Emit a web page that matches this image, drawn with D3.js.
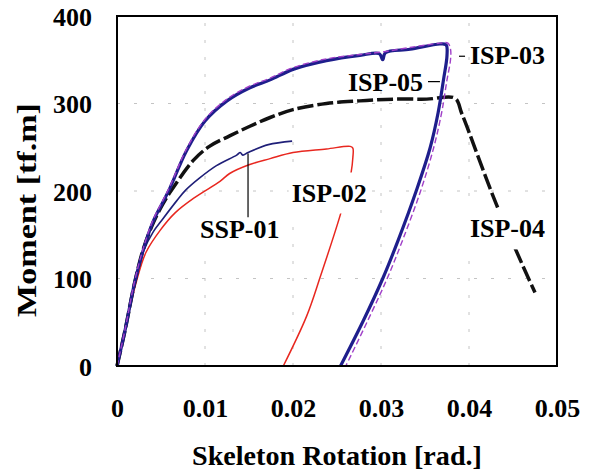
<!DOCTYPE html>
<html>
<head>
<meta charset="utf-8">
<script src="https://cdn.jsdelivr.net/npm/d3@7"></script>
<style>
  body { margin: 0; background: #fff; }
  svg { display: block; font-family: "Liberation Serif", "Times New Roman", serif; font-weight: bold; }
</style>
</head>
<body>
<svg width="590" height="472"></svg>
<script>
// rotation [rad], moment [tf.m]
var ssp01 = [[0,0],[0.0009,40],[0.002,95],[0.003,131],[0.0041,153],[0.0052,168],[0.0068,189],[0.0078,201],
  [0.0094,215],[0.0113,229],[0.0136,241],[0.0140,244],[0.0143,241],[0.0149,244],[0.0172,253],[0.0199,257]]

var isp02 = [[0,0],[0.001,46],[0.0023,100],[0.0033,130],[0.0049,155],[0.0066,175],[0.0089,193],
  [0.0117,211],[0.0128,220],[0.0150,230],[0.0174,237],[0.0200,244],[0.0238,248],[0.0265,251],
  [0.0268,249],[0.0268,238],[0.0266,221],[0.0255,177],[0.0231,102],[0.02155,57],[0.0189,0]]

var isp03 = [[0,0],[0.0009,41],[0.002,97],[0.003,135],[0.0041,167],[0.0053,191],[0.006,205],[0.0079,248],
  [0.010,282],[0.0125,305],[0.0151,320],[0.0174,329],[0.020,341],[0.0238,351],[0.0276,356],[0.0302,359],
  [0.0333,364],[0.0367,369],[0.0376,369],[0.0379,362],[0.0379,350],[0.0375,327],[0.0369,290],[0.0360,250],
  [0.0345,200],[0.0325,145],[0.0307,100],[0.0285,52],[0.0260,0]]

var isp04 = [[0,0],[0.0009,40],[0.002,95],[0.003,134],[0.0041,163],[0.0052,185],[0.0062,201],[0.00867,235],
  [0.0105,251],[0.0128,263],[0.0151,274],[0.0174,284],[0.020,293],[0.0238,300],[0.0276,303],[0.0314,305],
  [0.0352,305],[0.0384,306],[0.0392,288],[0.0431,185],[0.0469,97],[0.0475,84]]

var isp05 = [[0,0],[0.0009,40],[0.002,95],[0.003,133],[0.0041,165],[0.0053,189],[0.006,203],[0.0079,246],
  [0.010,280],[0.0125,303],[0.0151,318],[0.0174,327],[0.020,339],[0.0238,349],[0.0276,355],[0.0298,357],
  [0.0302,350],[0.0305,358],[0.0333,362],[0.0367,368],[0.0374,367],[0.0375,355],[0.0371,327],[0.0365,290],
  [0.0356,250],[0.0340,200],[0.0320,145],[0.0302,100],[0.0280,52],[0.0254,0]]

var xTicks = [0, 0.01, 0.02, 0.03, 0.04, 0.05]
var xTickLabels = ['0', '0.01', '0.02', '0.03', '0.04', '0.05']
var yTicks = [0, 100, 200, 300, 400]
var yTickLabels = ['0', '100', '200', '300', '400']

var svg = d3.select('svg')

var mapX = d3.scaleLinear().domain([0, 0.05]).range([117, 557])
var mapY = d3.scaleLinear().domain([0, 400]).range([366, 16])

// grid
svg.append('g')
    .selectAll('line')
    .data(xTicks.slice(1, 5))
    .enter()
    .append('line')
    .attr('x1', d => mapX(d)).attr('x2', d => mapX(d))
    .attr('y1', mapY(0)).attr('y2', mapY(400))
    .attr('stroke', '#c4c4c4').attr('stroke-width', 1).attr('stroke-dasharray', '3,14')

svg.append('g')
    .selectAll('line')
    .data(yTicks.slice(1, 4))
    .enter()
    .append('line')
    .attr('x1', mapX(0)).attr('x2', mapX(0.05))
    .attr('y1', d => mapY(d)).attr('y2', d => mapY(d))
    .attr('stroke', '#c4c4c4').attr('stroke-width', 1).attr('stroke-dasharray', '3,14')

var line = d3.line()
    .x(d => mapX(d[0]))
    .y(d => mapY(d[1]))
    .curve(d3.curveCatmullRom.alpha(0.5))

function draw(data, color, width, dash) {
    svg.append('path')
        .datum(data)
        .attr('d', line)
        .attr('fill', 'none')
        .attr('stroke', color)
        .attr('stroke-width', width)
        .attr('stroke-linejoin', 'round')
        .attr('stroke-dasharray', dash)
}

draw(isp02, '#e8271f', 1.5, null)
draw(ssp01, '#1f1f78', 1.6, null)
draw(isp04, '#111', 3.5, '16,4')
draw(isp05, '#1e1e8c', 3.2, null)
draw(isp03, '#a040c8', 1.4, '6,3')

// frame
svg.append('rect')
    .attr('x', mapX(0)).attr('y', mapY(400))
    .attr('width', mapX(0.05) - mapX(0)).attr('height', mapY(0) - mapY(400))
    .attr('fill', 'none').attr('stroke', '#000').attr('stroke-width', 2)

// axes
var xAxis = svg.append('g')
    .attr('transform', `translate(0, ${mapY(0)})`)
    .call(d3.axisBottom(mapX).tickValues(xTicks).tickSize(0).tickFormat((d, i) => xTickLabels[i]))
xAxis.select('.domain').remove()
xAxis.selectAll('text')
    .attr('y', 51).attr('dy', null)
    .style('font-family', '"Liberation Serif", serif').style('font-weight', 'bold')
    .style('font-size', '26px').attr('fill', '#000')

var yAxis = svg.append('g')
    .attr('transform', `translate(${mapX(0)}, 0)`)
    .call(d3.axisLeft(mapY).tickValues(yTicks).tickSize(0).tickFormat((d, i) => yTickLabels[i]))
yAxis.select('.domain').remove()
yAxis.selectAll('text')
    .attr('x', -25).attr('dy', '0.35em')
    .style('font-family', '"Liberation Serif", serif').style('font-weight', 'bold')
    .style('font-size', '26px').attr('fill', '#000')

svg.append('text')
    .attr('x', 337).attr('y', 465)
    .attr('text-anchor', 'middle')
    .attr('font-size', 27)
    .attr('textLength', 290).attr('lengthAdjust', 'spacingAndGlyphs')
    .text('Skeleton Rotation [rad.]')

svg.append('text')
    .attr('transform', 'translate(36, 210) rotate(-90)')
    .attr('text-anchor', 'middle')
    .attr('font-size', 27)
    .attr('textLength', 214).attr('lengthAdjust', 'spacingAndGlyphs')
    .text('Moment [tf.m]')

// curve labels
var labels = [
    {text: 'ISP-03', x: 0.0401, y: 345, box: false},
    {text: 'ISP-05', x: 0.02625, y: 314, box: false},
    {text: 'ISP-02', x: 0.01985, y: 188, box: true},
    {text: 'SSP-01', x: 0.00943, y: 146, box: true},
    {text: 'ISP-04', x: 0.0401, y: 147, box: true}
]

var lg = svg.append('g')
lg.selectAll('text')
    .data(labels)
    .enter()
    .append('text')
    .attr('x', d => mapX(d.x))
    .attr('y', d => mapY(d.y))
    .attr('font-size', 26)
    .text(d => d.text)
    .each(function(d) {
        if (!d.box) return
        var b = this.getBBox()
        lg.insert('rect', 'text')
            .attr('x', b.x - 3).attr('y', b.y - 6)
            .attr('width', b.width + 6).attr('height', b.height + 12)
            .attr('fill', '#fff')
    })

// leader ticks
var leaders = [
    [[0.01489, 243], [0.01489, 170]],
    [[0.03886, 354], [0.03955, 354]],
    [[0.03534, 325], [0.0367, 325]]
]
svg.append('g')
    .selectAll('line')
    .data(leaders)
    .enter()
    .append('line')
    .attr('x1', d => mapX(d[0][0])).attr('y1', d => mapY(d[0][1]))
    .attr('x2', d => mapX(d[1][0])).attr('y2', d => mapY(d[1][1]))
    .attr('stroke', '#000').attr('stroke-width', 1.2)
</script>
</body>
</html>
